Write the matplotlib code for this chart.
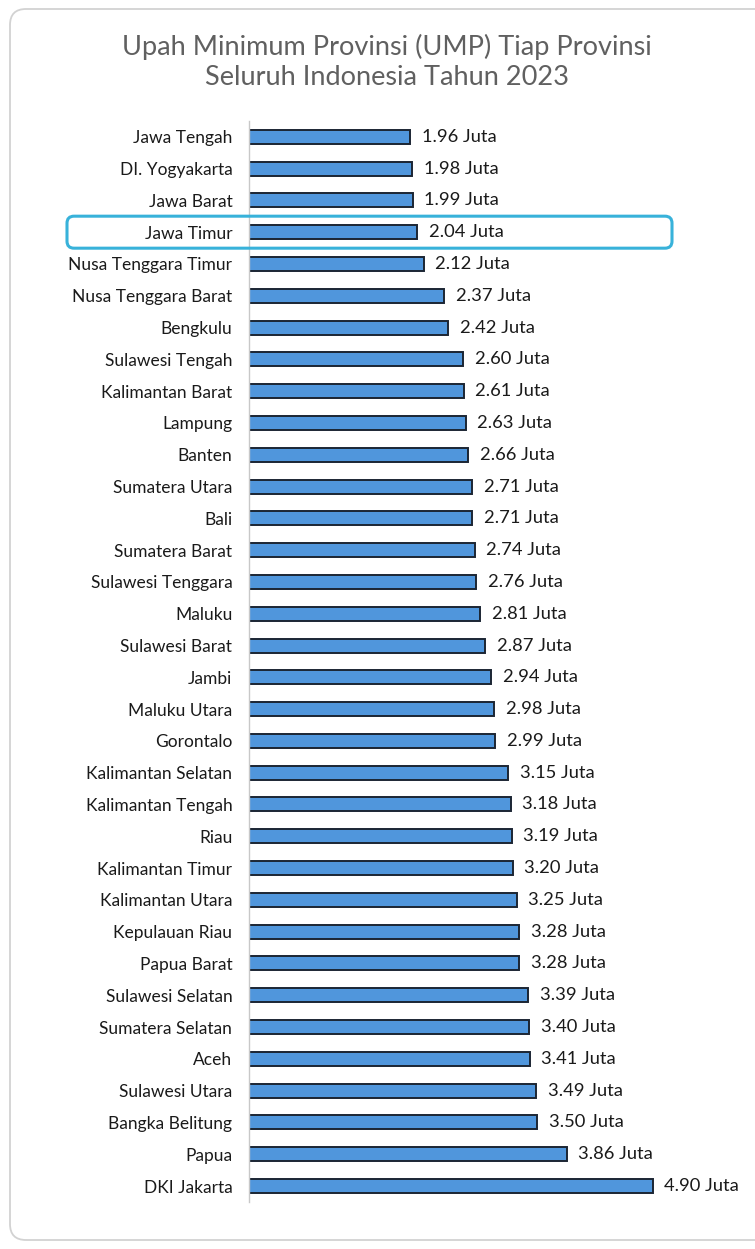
import matplotlib
matplotlib.use('Agg')
import matplotlib.pyplot as plt
from matplotlib.patches import FancyBboxPatch
from matplotlib.transforms import IdentityTransform

# data
provinces = ['Jawa Tengah', 'DI. Yogyakarta', 'Jawa Barat', 'Jawa Timur',
             'Nusa Tenggara Timur', 'Nusa Tenggara Barat', 'Bengkulu',
             'Sulawesi Tengah', 'Kalimantan Barat', 'Lampung', 'Banten',
             'Sumatera Utara', 'Bali', 'Sumatera Barat', 'Sulawesi Tenggara',
             'Maluku', 'Sulawesi Barat', 'Jambi', 'Maluku Utara', 'Gorontalo',
             'Kalimantan Selatan', 'Kalimantan Tengah', 'Riau',
             'Kalimantan Timur', 'Kalimantan Utara', 'Kepulauan Riau',
             'Papua Barat', 'Sulawesi Selatan', 'Sumatera Selatan', 'Aceh',
             'Sulawesi Utara', 'Bangka Belitung', 'Papua', 'DKI Jakarta']
ump = [1.96, 1.98, 1.99, 2.04, 2.12, 2.37, 2.42, 2.60, 2.61, 2.63, 2.66,
       2.71, 2.71, 2.74, 2.76, 2.81, 2.87, 2.94, 2.98, 2.99, 3.15, 3.18,
       3.19, 3.20, 3.25, 3.28, 3.28, 3.39, 3.40, 3.41, 3.49, 3.50, 3.86, 4.90]
highlight = 'Jawa Timur'

plt.rcParams['font.family'] = ['Lato', 'DejaVu Sans']

fig = plt.figure(figsize=(7.55, 12.49), dpi=100)
ax = fig.add_axes([0.3298, 0.0377, 0.60, 0.8655])

pos = list(range(len(provinces)))
ax.barh(pos, ump, height=0.44, color='#5096dc', edgecolor='#1b2533', linewidth=1.4)
for i, v in zip(pos, ump):
    ax.text(v + 0.14, i, f'{v:.2f} Juta', va='center', ha='left',
            fontsize=13.2, color='#1a1a1a')

ax.set_xlim(0, 5.5)
ax.set_ylim(len(provinces) - 0.5, -0.5)
ax.set_yticks(pos)
ax.set_yticklabels(provinces, fontsize=12.5, color='#1a1a1a')
ax.tick_params(axis='y', length=0, pad=12)
ax.set_xticks([])
for s in ['top', 'right', 'bottom']:
    ax.spines[s].set_visible(False)
ax.spines['left'].set_color('#c8c8c8')
ax.spines['left'].set_linewidth(1.0)

fig.text(0.512, 0.9624, 'Upah Minimum Provinsi (UMP) Tiap Provinsi',
         ha='center', va='center', fontsize=19.5, color='#606060')
fig.text(0.512, 0.9376, 'Seluruh Indonesia Tahun 2023',
         ha='center', va='center', fontsize=19.5, color='#606060')

# outer rounded frame (pixel coords), right side runs off the image
frame = FancyBboxPatch((10, 9), 900, 1231, boxstyle='round,pad=0,rounding_size=16',
                       transform=IdentityTransform(), fill=False,
                       edgecolor='#d2d2d2', linewidth=1.3)
fig.patches.append(frame)

# highlight box around Jawa Timur
yc = ax.transData.transform((0, provinces.index(highlight)))[1]
hbox = FancyBboxPatch((67, yc - 16), 605, 32, boxstyle='round,pad=0,rounding_size=7',
                      transform=IdentityTransform(), fill=False,
                      edgecolor='#38b2da', linewidth=2.2)
fig.patches.append(hbox)

fig.savefig('out.png', dpi=100, facecolor='white')
